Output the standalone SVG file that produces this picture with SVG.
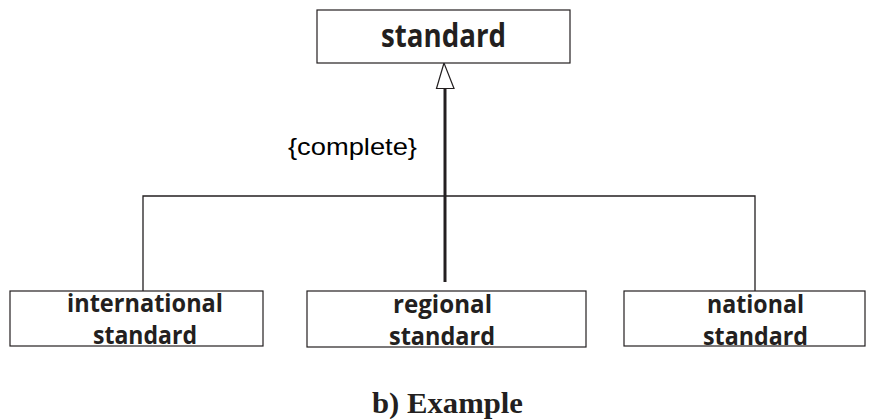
<svg xmlns="http://www.w3.org/2000/svg" width="874" height="419" viewBox="0 0 874 419">
<style>
.box{fill:#fff;stroke:#231f20;stroke-width:1.2}
.lbl{font-family:"Open Sans","Noto Sans",sans-serif;font-weight:700;fill:#231f20}
.big{font-size:32px}
.sm{font-size:25px}
.thin{fill:none;stroke:#231f20;stroke-width:1.3}
.thick{fill:none;stroke:#231f20;stroke-width:3}
</style>
<rect width="874" height="419" fill="#fff"/>
<g id="connectors">
<polyline class="thin" points="143,291 143,196 755,196 755,291"/>
<line class="thick" x1="445" y1="88" x2="445" y2="282"/>
<polygon points="444,63 436.5,88.5 454,88.5" fill="#fff" stroke="#231f20" stroke-width="1.2"/>
<text x="288" y="155" font-family="'Liberation Sans',Arial,sans-serif" font-size="24" fill="#000" textLength="129" lengthAdjust="spacingAndGlyphs">{complete}</text>
</g>
<g id="standard">
<rect class="box" x="317" y="10" width="253" height="53"/>
<text class="lbl big" x="381" y="47" textLength="125" lengthAdjust="spacingAndGlyphs">standard</text>
</g>
<g id="international">
<rect class="box" x="10" y="291" width="253" height="55"/>
<text class="lbl sm" x="67" y="312" textLength="156" lengthAdjust="spacingAndGlyphs">international</text>
<text class="lbl sm" x="93" y="344" textLength="104" lengthAdjust="spacingAndGlyphs">standard</text>
</g>
<g id="regional">
<rect class="box" x="307" y="291" width="279" height="56"/>
<text class="lbl sm" x="393" y="313" textLength="99" lengthAdjust="spacingAndGlyphs">regional</text>
<text class="lbl sm" x="389" y="345" textLength="106" lengthAdjust="spacingAndGlyphs">standard</text>
</g>
<g id="national">
<rect class="box" x="624" y="291" width="241" height="55"/>
<text class="lbl sm" x="707" y="313" textLength="97" lengthAdjust="spacingAndGlyphs">national</text>
<text class="lbl sm" x="703" y="345" textLength="105" lengthAdjust="spacingAndGlyphs">standard</text>
</g>
<text x="372" y="413" font-family="'Liberation Serif','Times New Roman',serif" font-weight="700" font-size="30" fill="#231f20" textLength="151" lengthAdjust="spacingAndGlyphs">b) Example</text>
</svg>
